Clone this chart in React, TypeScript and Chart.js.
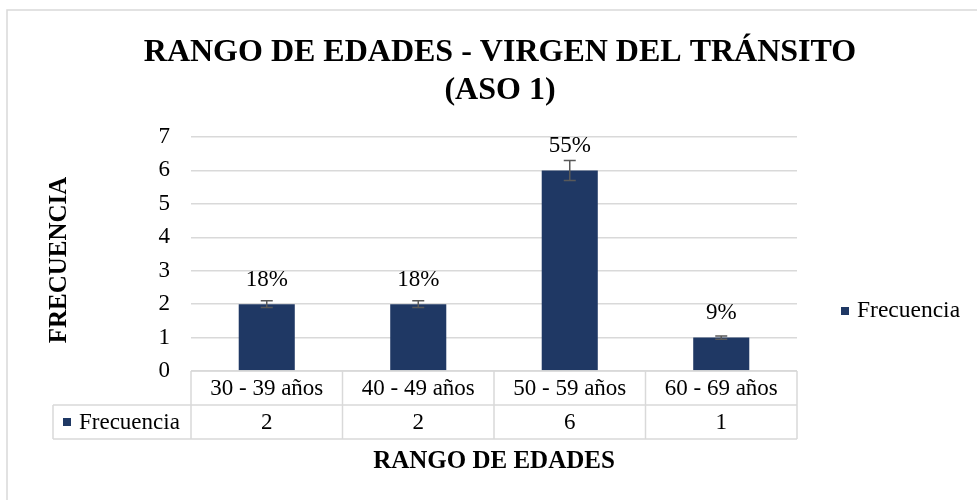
import React, { useEffect, useRef } from "react";
import { Chart, registerables } from "chart.js";

Chart.register(...registerables);

const categories = ["30 - 39 años", "40 - 49 años", "50 - 59 años", "60 - 69 años"];
const frecuencia = [2, 2, 6, 1];
const percentLabels = ["18%", "18%", "55%", "9%"];
const seriesName = "Frecuencia";
const titleLines = ["RANGO DE EDADES - VIRGEN DEL TRÁNSITO", "(ASO 1)"];
const yTitle = "FRECUENCIA";
const xTitle = "RANGO DE EDADES";
const yMin = 0;
const yMax = 7;
const yStep = 1;
const errorPercent = 0.05;

const FONT = '"Liberation Serif", "Times New Roman", serif';
const BAR = "#1F3864";
const GRID = "#d9d9d9";
const TEXT = "#000000";

const extras = {
  id: "extras",
  beforeDraw(chart: any) {
    const ctx = chart.ctx;
    ctx.save();
    ctx.strokeStyle = GRID;
    ctx.lineWidth = 1.5;
    ctx.beginPath();
    ctx.moveTo(7, 500);
    ctx.lineTo(7, 10);
    ctx.lineTo(977, 10);
    ctx.stroke();
    ctx.restore();
  },
  afterDatasetsDraw(chart: any) {
    const ctx = chart.ctx;
    const y = chart.scales.y;
    const meta = chart.getDatasetMeta(0);
    ctx.save();
    meta.data.forEach((bar: any, i: number) => {
      const v = frecuencia[i];
      const top = y.getPixelForValue(v * (1 + errorPercent));
      const bot = y.getPixelForValue(v * (1 - errorPercent));
      ctx.strokeStyle = "#595959";
      ctx.lineWidth = 1.5;
      ctx.beginPath();
      ctx.moveTo(bar.x, top);
      ctx.lineTo(bar.x, bot);
      ctx.moveTo(bar.x - 6, top);
      ctx.lineTo(bar.x + 6, top);
      ctx.moveTo(bar.x - 6, bot);
      ctx.lineTo(bar.x + 6, bot);
      ctx.stroke();
      ctx.fillStyle = TEXT;
      ctx.font = `23px ${FONT}`;
      ctx.textAlign = "center";
      ctx.textBaseline = "middle";
      ctx.fillText(percentLabels[i], bar.x, bar.y - 24.5);
    });
    ctx.restore();
  },
  afterDraw(chart: any) {
    const ctx = chart.ctx;
    const area = chart.chartArea;
    const x = chart.scales.x;
    const n = categories.length;
    const catW = (area.right - area.left) / n;
    ctx.save();

    // Title
    ctx.fillStyle = TEXT;
    ctx.font = `bold 32px ${FONT}`;
    ctx.textAlign = "center";
    ctx.textBaseline = "middle";
    ctx.fillText(titleLines[0], 500, 53);
    ctx.fillText(titleLines[1], 500, 91);

    // Y title
    ctx.save();
    ctx.translate(60, 260);
    ctx.rotate(-Math.PI / 2);
    ctx.font = `bold 25px ${FONT}`;
    ctx.fillText(yTitle, 0, 0);
    ctx.restore();

    // Data table
    const rowH = 34;
    const t0 = area.bottom;
    const t1 = t0 + rowH;
    const t2 = t1 + rowH;
    const legLeft = 53;
    ctx.strokeStyle = GRID;
    ctx.lineWidth = 1.5;
    ctx.beginPath();
    ctx.moveTo(area.left, t0);
    ctx.lineTo(area.right, t0);
    ctx.moveTo(legLeft, t1);
    ctx.lineTo(area.right, t1);
    ctx.moveTo(legLeft, t2);
    ctx.lineTo(area.right, t2);
    ctx.moveTo(legLeft, t1);
    ctx.lineTo(legLeft, t2);
    for (let i = 0; i <= n; i++) {
      const bx = area.left + i * catW;
      ctx.moveTo(bx, t0);
      ctx.lineTo(bx, t2);
    }
    ctx.stroke();

    ctx.fillStyle = TEXT;
    ctx.font = `23px ${FONT}`;
    ctx.textAlign = "center";
    ctx.textBaseline = "middle";
    categories.forEach((c, i) => {
      const cx = x.getPixelForValue(i);
      ctx.fillText(c, cx, t0 + rowH / 2 + 1);
      ctx.fillText(String(frecuencia[i]), cx, t1 + rowH / 2 + 1);
    });
    ctx.fillStyle = BAR;
    ctx.fillRect(63, t1 + rowH / 2 - 4, 8, 8);
    ctx.fillStyle = TEXT;
    ctx.textAlign = "left";
    ctx.fillText(seriesName, 79, t1 + rowH / 2 + 1);

    // X title
    ctx.textAlign = "center";
    ctx.font = `bold 25px ${FONT}`;
    ctx.fillText(xTitle, (area.left + area.right) / 2, 462);

    // Legend
    ctx.fillStyle = BAR;
    ctx.fillRect(841, 307, 8, 8);
    ctx.fillStyle = TEXT;
    ctx.font = `23.5px ${FONT}`;
    ctx.textAlign = "left";
    ctx.fillText(seriesName, 857, 311);

    ctx.restore();
  },
};

export default function App() {
  const ref = useRef<HTMLCanvasElement | null>(null);
  useEffect(() => {
    if (!ref.current) return;
    const chart = new Chart(ref.current, {
      type: "bar",
      data: {
        labels: categories,
        datasets: [
          {
            label: seriesName,
            data: frecuencia,
            backgroundColor: BAR,
            categoryPercentage: 1,
            barPercentage: 0.37,
          },
        ],
      },
      options: {
        responsive: false,
        animation: false,
        devicePixelRatio: 1,
        layout: { padding: { left: 0, top: 137, right: 180, bottom: 129 } },
        plugins: {
          legend: { display: false },
          title: { display: false },
          tooltip: { enabled: false },
        },
        scales: {
          x: { display: false },
          y: {
            min: yMin,
            max: yMax,
            ticks: {
              stepSize: yStep,
              padding: 21,
              color: TEXT,
              font: { family: FONT, size: 23 },
            },
            grid: { color: GRID, lineWidth: 1.5, drawTicks: false },
            border: { display: false },
            afterFit(scale: any) {
              scale.width = 191;
            },
          },
        },
      },
      plugins: [extras],
    });
    return () => chart.destroy();
  }, []);
  return (
    <div style={{ position: "absolute", left: 0, top: 0, width: 977, height: 500, background: "#fff" }}>
      <canvas ref={ref} width={977} height={500} />
    </div>
  );
}
